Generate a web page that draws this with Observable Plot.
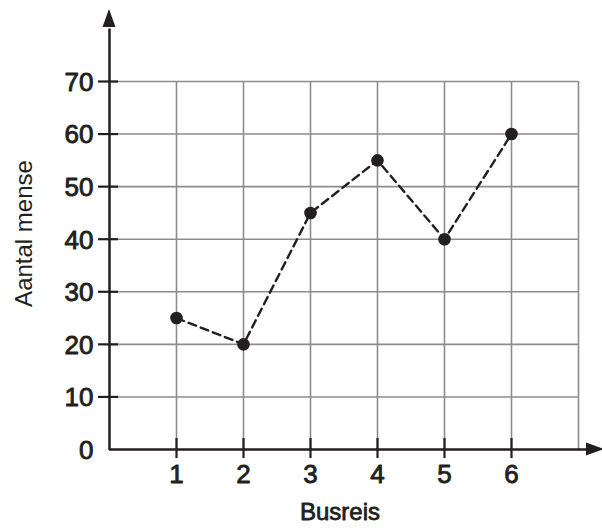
<!DOCTYPE html>
<html>
<head>
<meta charset="utf-8">
<script src="https://cdn.jsdelivr.net/npm/d3@7"></script>
<script src="https://cdn.jsdelivr.net/npm/@observablehq/plot@0.6"></script>
<style>
  html, body { margin: 0; padding: 0; background: #fff; }
  #chart svg { display: block; }
</style>
</head>
<body>
<div id="chart"></div>
<script>
// Data
const trips = [1, 2, 3, 4, 5, 6];
const people = [25, 20, 45, 55, 40, 60];
const xTicks = [1, 2, 3, 4, 5, 6];
const xGrid = [1, 2, 3, 4, 5, 6, 7];
const yTicks = [0, 10, 20, 30, 40, 50, 60, 70];
const xTitle = "Busreis";
const yTitle = "Aantal mense";

const data = trips.map((t, i) => ({trip: t, people: people[i]}));
const ink = "#231f20";
const grid = "#8c8c8c";
const font = "'Liberation Sans', Arial, sans-serif";

// arrowheads drawn with the plot's scales
function arrowheads(index, scales, values, dimensions) {
  const {x, y} = scales;
  const ns = "http://www.w3.org/2000/svg";
  const g = document.createElementNS(ns, "g");
  const x0 = x(0), y0 = y(0);
  const up = document.createElementNS(ns, "path");
  up.setAttribute("d", `M${x0},9 L${x0 - 6.5},27 L${x0 + 6.5},27 Z`);
  up.setAttribute("fill", ink);
  const right = document.createElementNS(ns, "path");
  const tipX = dimensions.width + 2;
  right.setAttribute("d", `M${tipX},${y0} L${tipX - 18},${y0 - 6.5} L${tipX - 18},${y0 + 6.5} Z`);
  right.setAttribute("fill", ink);
  g.appendChild(up);
  g.appendChild(right);
  return g;
}

const chart = Plot.plot({
  width: 602,
  height: 528,
  marginLeft: 109,
  marginRight: 24,
  marginTop: 81,
  marginBottom: 79,
  x: {domain: [0, 7], axis: null},
  y: {domain: [0, 70], axis: null},
  style: {fontFamily: font, background: "#fff", overflow: "visible"},
  marks: [
    // grid
    Plot.ruleY(yTicks.filter(d => d > 0), {y: d => d, x1: 0, x2: 7, stroke: grid, strokeWidth: 1.6}),
    Plot.ruleX(xGrid, {x: d => d, y1: 0, y2: 70, stroke: grid, strokeWidth: 1.6}),
    // axis lines
    Plot.ruleY([0], {x1: 0, x2: 7, stroke: ink, strokeWidth: 2.5, insetRight: -16}),
    Plot.ruleX([0], {y1: -0.2, y2: 80, stroke: ink, strokeWidth: 2.5}),
    // tick marks
    Plot.ruleY(yTicks.filter(d => d > 0), {y: d => d, x1: 0, x2: 0, insetLeft: -11, insetRight: -9, stroke: ink, strokeWidth: 2.2}),
    Plot.ruleX(xTicks, {x: d => d, y1: 0, y2: 0, insetTop: -11, insetBottom: -9, stroke: ink, strokeWidth: 2.2}),
    // tick labels
    Plot.text(yTicks, {x: 0, y: d => d, text: d => String(d), textAnchor: "end", dx: -16, dy: 1,
      fontSize: 26, fill: ink, stroke: ink, strokeWidth: 0.9}),
    Plot.text(xTicks, {x: d => d, y: 0, text: d => String(d), dy: 25, fontSize: 26, fill: ink, stroke: ink, strokeWidth: 0.9}),
    // axis titles
    Plot.text([xTitle], {frameAnchor: "bottom", text: d => d, dx: -4, dy: 70, fontSize: 24, fill: ink, stroke: ink, strokeWidth: 0.8}),
    Plot.text([yTitle], {frameAnchor: "left", textAnchor: "middle", text: d => d, rotate: -90, dx: -85, dy: -32, fontSize: 24, fill: ink}),
    // data
    Plot.line(data, {x: "trip", y: "people", stroke: ink, strokeWidth: 2.4, strokeDasharray: "8,5"}),
    Plot.dot(data, {x: "trip", y: "people", r: 6.3, fill: ink}),
    arrowheads
  ]
});

document.getElementById("chart").appendChild(chart);
</script>
</body>
</html>
